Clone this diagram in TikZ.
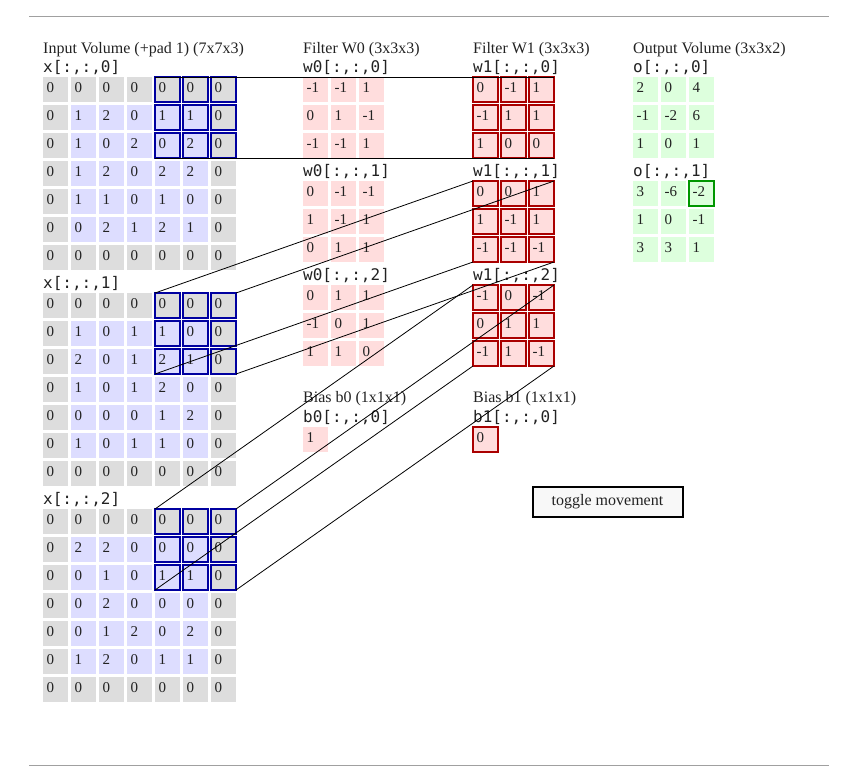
\documentclass[tikz,border=0pt]{standalone}
\usepackage{fontspec}
\setmainfont{Liberation Serif}
\setmonofont{DejaVu Sans Mono}

\definecolor{padgray}{RGB}{221,221,221}
\definecolor{datablue}{RGB}{221,221,255}
\definecolor{filtred}{RGB}{255,221,221}
\definecolor{outgreen}{RGB}{221,255,221}
\definecolor{boxblue}{RGB}{0,0,160}
\definecolor{boxred}{RGB}{170,0,0}
\definecolor{boxgreen}{RGB}{0,150,0}
\definecolor{rulegray}{RGB}{160,160,160}
\definecolor{ink}{RGB}{34,34,34}
\definecolor{btnfill}{RGB}{248,248,248}

% padded 7x7 input slice: border cells grey, the top-right 3x3 window framed
% #1 name, #2 left, #3 top, #4 rows
\newcommand\volgrid[4]{%
  \foreach \rowvals [count=\rr from 0] in {#4} {
    \foreach \v [count=\cc from 0] in \rowvals {
      \def\cf{padgray}%
      \ifnum\rr>0 \ifnum\rr<6 \ifnum\cc>0 \ifnum\cc<6 \def\cf{datablue}\fi\fi\fi\fi
      \def\cd{none}%
      \ifnum\rr<3 \ifnum\cc>3 \def\cd{boxblue}\fi\fi
      \node[cellbox, fill=\cf, draw=\cd] (#1-\rr-\cc) at ({#2+28*\cc},{#3+28*\rr}) {\v};
    }
  }%
}

% plain grid of cells
% #1 name, #2 left, #3 top, #4 fill, #5 frame colour, #6 rows
\newcommand\plaingrid[6]{%
  \foreach \rowvals [count=\rr from 0] in {#6} {
    \foreach \v [count=\cc from 0] in \rowvals {
      \node[cellbox, fill=#4, draw=#5] (#1-\rr-\cc) at ({#2+28*\cc},{#3+28*\rr}) {\v};
    }
  }%
}

\begin{document}
\begin{tikzpicture}[x=1pt, y=-1pt,
  cellbox/.style={rectangle, anchor=north west, minimum width=25pt, minimum height=25pt,
    inner xsep=3.5pt, inner ysep=0pt, outer sep=0pt, text width=18pt, align=left,
    text height=10pt, text depth=5pt, line width=2pt, text=ink,
    font=\fontsize{15}{17}\selectfont},
  ttl/.style={anchor=base west, inner sep=0pt, text=ink, font=\fontsize{16}{19}\selectfont},
  slice/.style={anchor=base west, inner sep=0pt, text=ink, font=\ttfamily\fontsize{16}{19}\selectfont},
  wire/.style={black, line width=0.8pt},
  rule/.style={rulegray, line width=1pt},
  button/.style={rectangle, draw=black, line width=2pt, fill=btnfill, minimum width=150pt,
    minimum height=30pt, inner sep=0pt, text=ink, font=\fontsize{16}{19}\selectfont}]
\useasboundingbox (0,0) rectangle (853,768);

% page rules
\coordinate (rtl) at (29,16.5);
\coordinate (rtr) at (829,16.5);
\coordinate (rbl) at (29,765);
\coordinate (rbr) at (829,765);
\draw[rule] (rtl) -- (rtr);
\draw[rule] (rbl) -- (rbr);

% ---------- input volume ----------
\node[ttl] (tin) at (43,53) {Input Volume (+pad 1) (7x7x3)};
\node[slice] (lx0) at (43,72) {x[:,:,0]};
\volgrid{x0}{43}{77}{{0,0,0,0,0,0,0},{0,1,2,0,1,1,0},{0,1,0,2,0,2,0},{0,1,2,0,2,2,0},{0,1,1,0,1,0,0},{0,0,2,1,2,1,0},{0,0,0,0,0,0,0}}
\node[slice] (lx1) at (43,288) {x[:,:,1]};
\volgrid{x1}{43}{293}{{0,0,0,0,0,0,0},{0,1,0,1,1,0,0},{0,2,0,1,2,1,0},{0,1,0,1,2,0,0},{0,0,0,0,1,2,0},{0,1,0,1,1,0,0},{0,0,0,0,0,0,0}}
\node[slice] (lx2) at (43,504) {x[:,:,2]};
\volgrid{x2}{43}{509}{{0,0,0,0,0,0,0},{0,2,2,0,0,0,0},{0,0,1,0,1,1,0},{0,0,2,0,0,0,0},{0,0,1,2,0,2,0},{0,1,2,0,1,1,0},{0,0,0,0,0,0,0}}

% ---------- filter W0 ----------
\node[ttl] (tw0) at (303,53) {Filter W0 (3x3x3)};
\node[slice] (lw00) at (303,72) {w0[:,:,0]};
\plaingrid{w00}{303}{77}{filtred}{none}{{-1,-1,1},{0,1,-1},{-1,-1,1}}
\node[slice] (lw01) at (303,176) {w0[:,:,1]};
\plaingrid{w01}{303}{181}{filtred}{none}{{0,-1,-1},{1,-1,1},{0,1,1}}
\node[slice] (lw02) at (303,280) {w0[:,:,2]};
\plaingrid{w02}{303}{285}{filtred}{none}{{0,1,1},{-1,0,1},{1,1,0}}

% ---------- filter W1 ----------
\node[ttl] (tw1) at (473,53) {Filter W1 (3x3x3)};
\node[slice] (lw10) at (473,72) {w1[:,:,0]};
\plaingrid{w10}{473}{77}{filtred}{boxred}{{0,-1,1},{-1,1,1},{1,0,0}}
\node[slice] (lw11) at (473,176) {w1[:,:,1]};
\plaingrid{w11}{473}{181}{filtred}{boxred}{{0,0,1},{1,-1,1},{-1,-1,-1}}
\node[slice] (lw12) at (473,280) {w1[:,:,2]};
\plaingrid{w12}{473}{285}{filtred}{boxred}{{-1,0,-1},{0,1,1},{-1,1,-1}}

% ---------- biases ----------
\node[ttl] (tb0) at (303,402) {Bias b0 (1x1x1)};
\node[slice] (lb0) at (303,422) {b0[:,:,0]};
\plaingrid{b0}{303}{427}{filtred}{none}{{1}}
\node[ttl] (tb1) at (473,402) {Bias b1 (1x1x1)};
\node[slice] (lb1) at (473,422) {b1[:,:,0]};
\plaingrid{b1}{473}{427}{filtred}{boxred}{{0}}

% ---------- output volume ----------
\node[ttl] (tout) at (633,53) {Output Volume (3x3x2)};
\node[slice] (lo0) at (633,72) {o[:,:,0]};
\plaingrid{o0}{633}{77}{outgreen}{none}{{2,0,4},{-1,-2,6},{1,0,1}}
\node[slice] (lo1) at (633,176) {o[:,:,1]};
\plaingrid{o1}{633}{181}{outgreen}{none}{{3,-6,-2},{1,0,-1},{3,3,1}}
\draw[boxgreen, line width=2pt] (o1-0-2.north west) rectangle (o1-0-2.south east);

% ---------- button ----------
\node[button] (toggle) at (607.5,501.5) {toggle movement};

% ---------- window-to-filter connectors ----------
\foreach \k in {0,1,2} {
  \draw[wire] (x\k-0-4.north west) -- (w1\k-0-0.north west);
  \draw[wire] (x\k-0-6.north east) -- (w1\k-0-2.north east);
  \draw[wire] (x\k-2-4.south west) -- (w1\k-2-0.south west);
  \draw[wire] (x\k-2-6.south east) -- (w1\k-2-2.south east);
}
\end{tikzpicture}
\end{document}
